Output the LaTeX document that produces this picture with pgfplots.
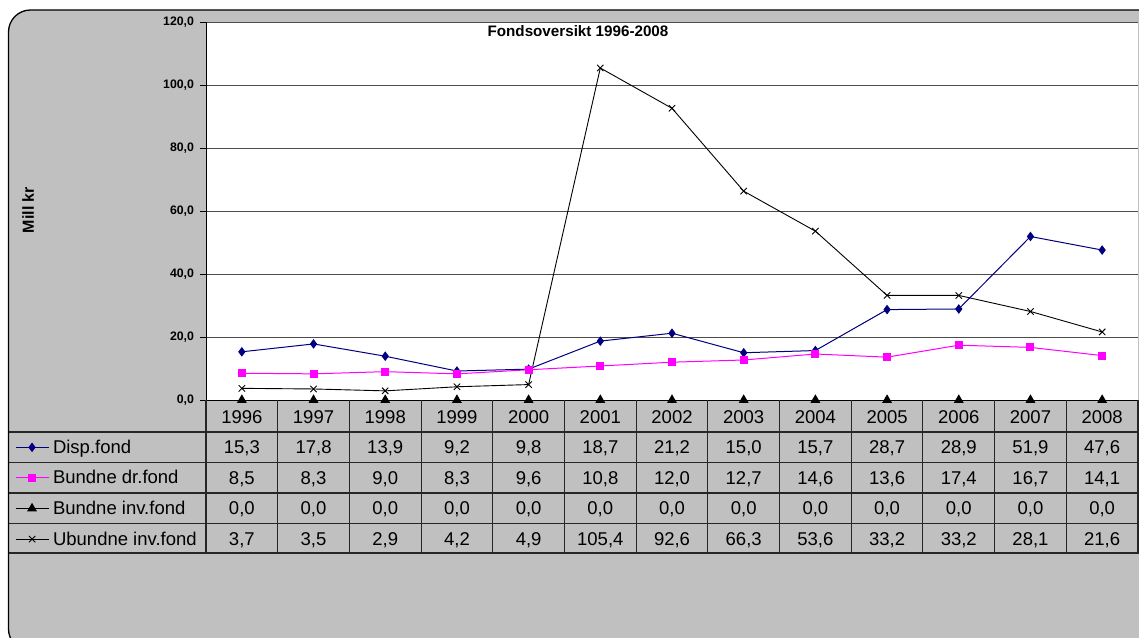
\documentclass[border=0pt]{standalone}
\usepackage{fontspec}
\setmainfont{Liberation Sans}
\usepackage{pgfplots}
\pgfplotsset{compat=1.18}
\definecolor{bggray}{HTML}{C0C0C0}
\definecolor{navyb}{HTML}{000080}
\definecolor{mag}{HTML}{FF00FF}
\begin{document}
\begin{tikzpicture}
\useasboundingbox (0pt,0pt) rectangle (1139pt,637pt);
\fill[white] (0pt,0pt) rectangle (1139pt,637pt);
\begin{scope}
\clip (0pt,0pt) rectangle (1139pt,637pt);
\draw[fill=bggray, line width=1.3pt, rounded corners=22pt] (8.5pt,627pt) rectangle (1180pt,-14pt);
\end{scope}
\begin{axis}[
  at={(206pt,237pt)}, anchor=south west,
  width=932pt, height=378pt, scale only axis,
  xmin=-0.5, xmax=12.5, ymin=0, ymax=120,
  axis background/.style={fill=white},
  axis lines=left, axis line style={-, black, line width=1pt},
  ytick={0,20,...,120}, xtick={0,...,12},
  xticklabels={1996,1997,1998,1999,2000,2001,2002,2003,2004,2005,2006,2007,2008},
  xticklabel style={anchor=base, yshift=-17.2pt, font=\fontsize{18.5}{20}\selectfont},
  x tick style={draw=none},
  major tick length=6pt, tick align=outside,
  y tick style={black, line width=0.8pt},
  ymajorgrids, grid style={line width=0.9pt, black!70},
  yticklabel style={font=\bfseries\fontsize{12.3}{14}\selectfont, xshift=-2.5pt},
  y tick label style={/pgf/number format/.cd, fixed, fixed zerofill, precision=1, use comma, assume math mode=true},
  clip=false,
  legend style={at={(axis description cs:-0.2049,-0.0847)}, anchor=north west,
    draw=none, fill=none, inner sep=0pt, outer sep=0pt, row sep=0pt,
    font=\fontsize{18.5}{20}\selectfont,
    nodes={inner xsep=4pt, inner ysep=0pt, minimum height=30.6pt}},
  legend cell align=left,
  legend image code/.code={\draw[mark repeat=2,mark phase=2,#1] plot coordinates {(0pt,0pt)(16.5pt,0pt)(33pt,0pt)};},
]
\addplot[navyb, line width=1pt, mark=diamond*, mark size=4pt, mark options={fill=navyb}] coordinates {
(0,15.3)(1,17.8)(2,13.9)(3,9.2)(4,9.8)(5,18.7)(6,21.2)(7,15.0)(8,15.7)(9,28.7)(10,28.9)(11,51.9)(12,47.6)};
\addlegendentry{Disp.fond}
\addplot[mag, line width=1pt, mark=square*, mark size=3.5pt, mark options={fill=mag}] coordinates {
(0,8.5)(1,8.3)(2,9.0)(3,8.3)(4,9.6)(5,10.8)(6,12.0)(7,12.7)(8,14.6)(9,13.6)(10,17.4)(11,16.7)(12,14.1)};
\addlegendentry{Bundne dr.fond}
\addplot[black, line width=1pt, mark=triangle*, mark size=4.7pt, mark options={fill=black}] coordinates {
(0,0)(1,0)(2,0)(3,0)(4,0)(5,0)(6,0)(7,0)(8,0)(9,0)(10,0)(11,0)(12,0)};
\addlegendentry{Bundne inv.fond}
\addplot[black, line width=0.9pt, mark=x, mark size=4.5pt] coordinates {
(0,3.7)(1,3.5)(2,2.9)(3,4.2)(4,4.9)(5,105.4)(6,92.6)(7,66.3)(8,53.6)(9,33.2)(10,33.2)(11,28.1)(12,21.6)};
\addlegendentry{Ubundne inv.fond}
\end{axis}
\begin{scope}[x=1pt,y=1pt]
% title and y label
\node[font=\bfseries\fontsize{15.2}{17}\selectfont] at (578,606) {Fondsoversikt 1996-2008};
\node[font=\bfseries\fontsize{16}{18}\selectfont, rotate=90] at (28,427) {Mill kr};
% data table grid
\begin{scope}[line width=1.1pt, black!85]
\foreach \y in {205,174.5,144,113.5,84} \draw (9,\y) -- (1139,\y);
\foreach \k in {0,...,13} \draw ({206+71.6923*\k},237) -- ({206+71.6923*\k},84);
\end{scope}
% data table values
\begin{scope}[every node/.style={font=\fontsize{18.5}{20}\selectfont, anchor=base, inner sep=0pt}]
\foreach \v [count=\i from 0] in {{15,3},{17,8},{13,9},{9,2},{9,8},{18,7},{21,2},{15,0},{15,7},{28,7},{28,9},{51,9},{47,6}}
  \node at ({206+71.6923*(\i+0.5)},183.1) {\v};
\foreach \v [count=\i from 0] in {{8,5},{8,3},{9,0},{8,3},{9,6},{10,8},{12,0},{12,7},{14,6},{13,6},{17,4},{16,7},{14,1}}
  \node at ({206+71.6923*(\i+0.5)},152.6) {\v};
\foreach \v [count=\i from 0] in {{0,0},{0,0},{0,0},{0,0},{0,0},{0,0},{0,0},{0,0},{0,0},{0,0},{0,0},{0,0},{0,0}}
  \node at ({206+71.6923*(\i+0.5)},122.1) {\v};
\foreach \v [count=\i from 0] in {{3,7},{3,5},{2,9},{4,2},{4,9},{105,4},{92,6},{66,3},{53,6},{33,2},{33,2},{28,1},{21,6}}
  \node at ({206+71.6923*(\i+0.5)},91.6) {\v};
\end{scope}
\end{scope}
\end{tikzpicture}
\end{document}
